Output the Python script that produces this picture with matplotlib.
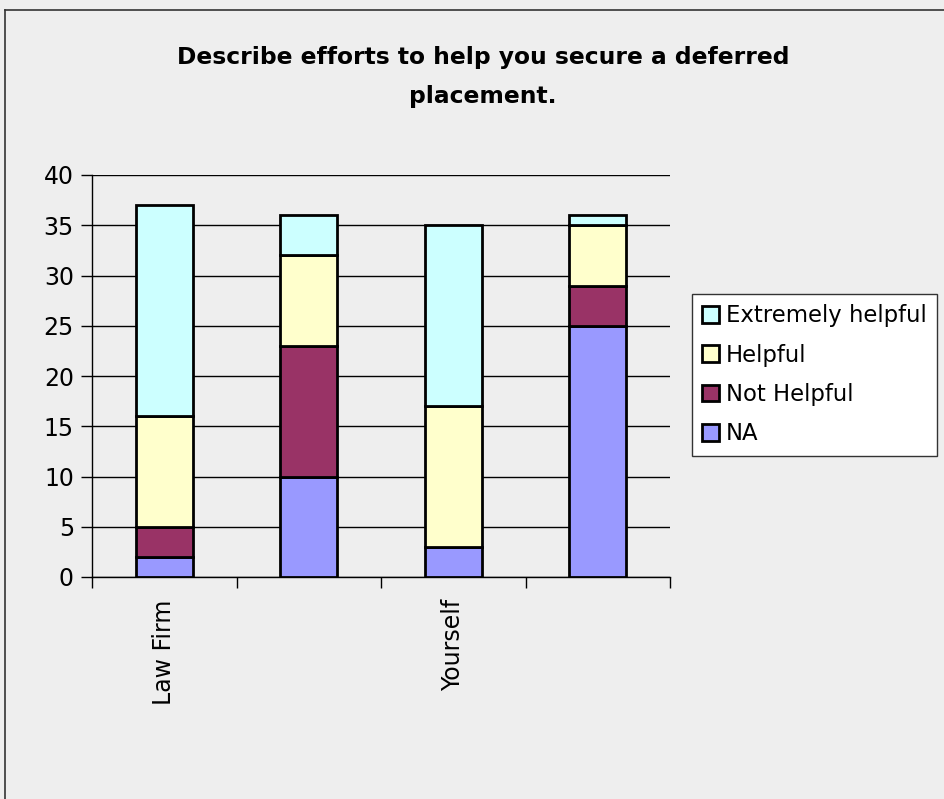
import numpy as np
import matplotlib.pyplot as plt
from matplotlib.lines import Line2D

# Survey responses per source of help
categories = ["Law Firm", "", "Yourself", ""]
na = [2, 10, 3, 25]
not_helpful = [3, 13, 0, 4]
helpful = [11, 9, 14, 6]
extremely_helpful = [21, 4, 18, 1]

series_names = ["NA", "Not Helpful", "Helpful", "Extremely helpful"]
series_colors = ["#9999FF", "#993366", "#FFFFCC", "#CCFFFF"]

bg = "#EEEEEE"
fig = plt.figure(figsize=(9.44, 7.99), dpi=100, facecolor=bg)
ax = fig.add_axes([92 / 944, 1 - 577 / 799, (670 - 92) / 944, (577 - 175) / 799])
ax.set_facecolor(bg)

x = np.arange(len(categories))
bottom = np.zeros(len(categories))
for name, vals, color in zip(series_names, [na, not_helpful, helpful, extremely_helpful], series_colors):
    ax.bar(x, vals, width=0.395, bottom=bottom, color=color, edgecolor="black",
           linewidth=2.0, label=name, zorder=3)
    bottom += np.array(vals)

ax.set_xlim(-0.5, 3.5)
ax.set_ylim(0, 40)
ax.set_yticks(range(0, 41, 5))
ax.yaxis.grid(True, color="black", linewidth=1.0, zorder=0)
ax.tick_params(axis="y", direction="out", length=8, width=1, labelsize=17, pad=5)

# category labels at centres, tick marks at category boundaries
ax.set_xticks(x)
ax.set_xticklabels(categories, rotation=90, fontsize=17)
ax.tick_params(axis="x", which="major", length=0, pad=16)
ax.set_xticks(np.arange(-0.5, 4.0, 1.0), minor=True)
ax.tick_params(axis="x", which="minor", direction="out", length=8, width=1)

for side in ["top", "right"]:
    ax.spines[side].set_visible(False)
ax.spines["left"].set_linewidth(1.0)
ax.spines["bottom"].set_linewidth(1.0)

fig.text(483 / 944, 1 - 77 / 799, "Describe efforts to help you secure a deferred\nplacement.",
         ha="center", va="center", fontsize=16.8, fontweight="bold", linespacing=1.85)

handles, labels = ax.get_legend_handles_labels()
leg = fig.legend(handles[::-1], labels[::-1], loc="upper left",
                 bbox_to_anchor=(692 / 944, 1 - 294 / 799), fontsize=16.4,
                 frameon=True, fancybox=False, edgecolor="#333333", facecolor="white",
                 framealpha=1, handlelength=0.75, handleheight=0.75, handletextpad=0.3,
                 labelspacing=0.72, borderpad=0.45, borderaxespad=0)
leg.get_frame().set_linewidth(1.0)

# outer chart border
fig.add_artist(Line2D([4.5 / 944, 4.5 / 944], [0, 1 - 9.5 / 799], color="#333333", linewidth=1.2))
fig.add_artist(Line2D([4.5 / 944, 1], [1 - 9.5 / 799, 1 - 9.5 / 799], color="#333333", linewidth=1.2))

fig.savefig("out.png", dpi=100, facecolor=bg)
